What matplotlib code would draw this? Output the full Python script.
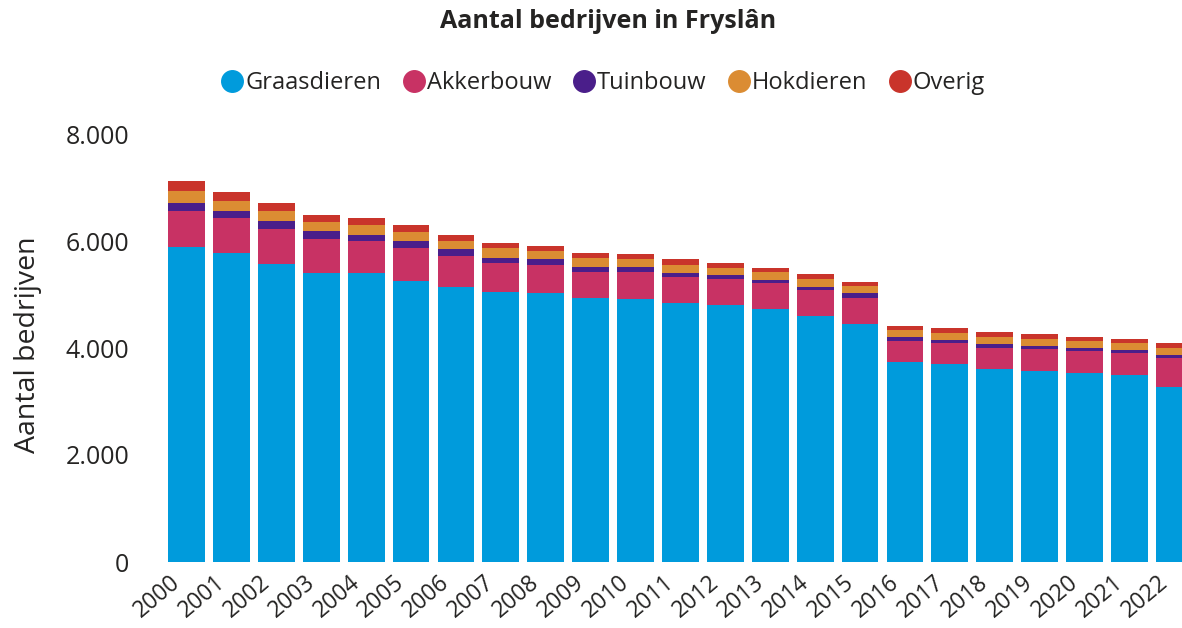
import matplotlib
matplotlib.use("Agg")
import matplotlib.pyplot as plt
from matplotlib.lines import Line2D
from matplotlib.transforms import ScaledTranslation
import numpy as np

years = [str(y) for y in range(2000, 2023)]
graasdieren = [5880, 5770, 5565, 5410, 5395, 5250, 5135, 5050, 5020, 4930, 4910, 4845,
               4805, 4725, 4605, 4450, 3740, 3700, 3600, 3570, 3540, 3490, 3275]
akkerbouw = [685, 655, 665, 630, 600, 620, 590, 530, 530, 490, 510, 485,
             480, 485, 475, 490, 390, 390, 405, 410, 405, 415, 545]
tuinbouw = [150, 140, 145, 145, 125, 130, 120, 110, 105, 100, 90, 75,
            80, 62, 68, 80, 70, 65, 75, 62, 62, 56, 50]
hokdieren = [220, 187, 185, 175, 180, 175, 160, 170, 155, 160, 150, 150,
             137, 145, 138, 137, 135, 130, 130, 130, 130, 125, 125]
overig = [185, 157, 145, 130, 125, 120, 105, 95, 100, 100, 100, 100,
          93, 85, 93, 75, 75, 80, 90, 82, 75, 80, 95]

series = ["Graasdieren", "Akkerbouw", "Tuinbouw", "Hokdieren", "Overig"]
colors = ["#009BDC", "#C83264", "#4A1E8A", "#DB8C33", "#C9342B"]
data = [graasdieren, akkerbouw, tuinbouw, hokdieren, overig]
ytick_vals = [0, 2000, 4000, 6000, 8000]
ytick_labels = ["0", "2.000", "4.000", "6.000", "8.000"]

plt.rcParams['font.family'] = ['Open Sans', 'DejaVu Sans']
TXT = '#252423'

fig = plt.figure(figsize=(11.82, 6.28), dpi=100)
ax = fig.add_axes([160/1182, 1-562/628, 1-160/1182, (562-134)/628])

x = np.arange(len(years))
bottom = np.zeros(len(years))
for name, vals, c in zip(series, data, colors):
    ax.bar(x, vals, bottom=bottom, width=0.82, color=c, label=name)
    bottom += np.array(vals)

ax.set_xlim(-0.59, 22.17)
ax.set_ylim(0, 8000)
ax.set_yticks(ytick_vals)
ax.set_yticklabels(ytick_labels)
ax.set_xticks(x)
ax.set_xticklabels(years, rotation=40, ha='right', rotation_mode='anchor')
ax.tick_params(axis='y', length=0, labelsize=18, colors=TXT, pad=22)
ax.tick_params(axis='x', length=0, labelsize=16.5, colors=TXT, pad=6)
offset = ScaledTranslation(-0.17, 0, fig.dpi_scale_trans)
for lab in ax.get_xticklabels():
    lab.set_transform(lab.get_transform() + offset)
for s in ax.spines.values():
    s.set_visible(False)

fig.text(28/1182, 1-345/628, "Aantal bedrijven", rotation=90, ha='center', va='center',
         fontsize=20.5, color=TXT)

fig.text(608/1182, 1-22/628, "Aantal bedrijven in Fryslân", ha='center', va='center',
         fontsize=18, fontweight='bold', color=TXT)

handles = [Line2D([0], [0], marker='o', linestyle='', markersize=15.5,
                  markerfacecolor=c, markeredgecolor=c) for c in colors]
fig.legend(handles, series, loc='center', bbox_to_anchor=(602/1182, 1-83/628), ncol=5,
           frameon=False, fontsize=17, handletextpad=0.0, columnspacing=0.83,
           handlelength=1.1, labelcolor=TXT)

fig.savefig("out.png", dpi=100)
